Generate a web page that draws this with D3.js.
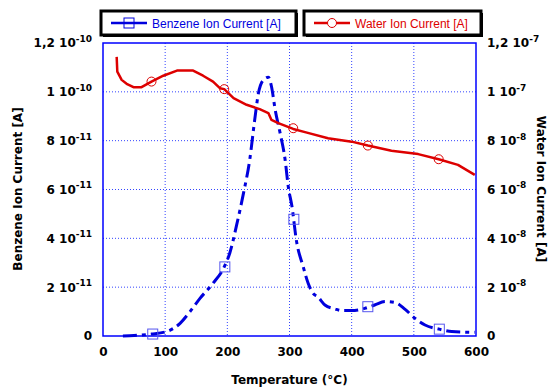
<!DOCTYPE html>
<html>
<head>
<meta charset="utf-8">
<script src="https://cdn.jsdelivr.net/npm/d3@7"></script>
<style>
  body { margin: 0; background: #fff; }
  svg { display: block; }
  .tick-label { font-family: "DejaVu Sans", sans-serif; font-weight: bold; font-size: 12px; fill: #000; }
  .axis-title { font-family: "DejaVu Sans", sans-serif; font-weight: bold; font-size: 12px; fill: #000; }
  .legend-text { font-family: "Liberation Sans", Arial, sans-serif; font-size: 12px; }
</style>
</head>
<body>
<div id="vis"></div>
<script>
const FRAME_WIDTH = 550;
const FRAME_HEIGHT = 387;
const MARGINS = {left: 103, right: 74, top: 43, bottom: 51};

// temperature (°C) and benzene ion current (x 1e-11 A)
const benzeneTemp = [32, 50, 78, 102, 124, 140, 156, 177, 195, 204, 215, 226, 236, 244, 250, 258, 266,
  271, 277, 285, 293, 298, 304, 311, 322, 330, 338, 346, 357, 373, 384, 400, 421, 437, 454, 470,
  486, 502, 518, 541, 561, 598];
const benzeneVal = [0, 0.02, 0.08, 0.18, 0.52, 1.0, 1.54, 2.16, 2.83, 3.4, 4.55, 5.85, 7.21, 8.85, 9.94,
  10.49, 10.6, 10.22, 9.26, 8.3, 7.21, 6.12, 5.3, 3.93, 2.84, 2.16, 1.75, 1.59, 1.27, 1.11, 1.04,
  1.04, 1.13, 1.27, 1.41, 1.37, 1.09, 0.72, 0.45, 0.28, 0.18, 0.15];
const benzeneMarkTemp = [80, 196, 307, 426, 541];
const benzeneMarkVal = [0.08, 2.83, 4.78, 1.2, 0.28];

// water ion current (x 1e-8 A)
const waterTemp = [22, 23, 30, 38, 49, 62, 78, 97, 119, 145, 161, 177, 188, 195, 210, 231, 252, 266,
  271, 282, 306, 328, 362, 400, 426, 464, 507, 540, 571, 598];
const waterVal = [11.43, 10.83, 10.49, 10.33, 10.19, 10.19, 10.42, 10.66, 10.87, 10.87, 10.66, 10.42,
  10.15, 10.11, 9.74, 9.47, 9.29, 9.13, 8.85, 8.72, 8.48, 8.33, 8.1, 7.96, 7.8, 7.59, 7.45, 7.24,
  7.01, 6.6];
const waterMarkTemp = [78, 195, 306, 426, 540];
const waterMarkVal = [10.42, 10.11, 8.51, 7.8, 7.24];

const xTicks = [0, 100, 200, 300, 400, 500, 600];
const yTicks = [0, 2, 4, 6, 8, 10, 12];
const leftMantissa = ["0", "2", "4", "6", "8", "1", "1,2"];
const leftExponent = ["", "-11", "-11", "-11", "-11", "-10", "-10"];
const rightMantissa = ["0", "2", "4", "6", "8", "1", "1,2"];
const rightExponent = ["", "-8", "-8", "-8", "-8", "-7", "-7"];

const BLUE = "#0000dd";
const RED = "#dd0000";

const VIS_WIDTH = FRAME_WIDTH - MARGINS.left - MARGINS.right;
const VIS_HEIGHT = FRAME_HEIGHT - MARGINS.top - MARGINS.bottom;

const FRAME1 = d3.select("#vis")
  .append("svg")
    .attr("width", FRAME_WIDTH)
    .attr("height", FRAME_HEIGHT);

const X_SCALE = d3.scaleLinear().domain([0, 600]).range([0, VIS_WIDTH]);
const Y_LEFT = d3.scaleLinear().domain([0, 12]).range([VIS_HEIGHT, 0]);
const Y_RIGHT = d3.scaleLinear().domain([0, 12]).range([VIS_HEIGHT, 0]);

const plot = FRAME1.append("g")
  .attr("transform", "translate(" + MARGINS.left + "," + MARGINS.top + ")");

// grid
plot.append("g").selectAll("line.vgrid")
  .data(xTicks.slice(1, -1))
  .enter().append("line")
    .attr("x1", d => X_SCALE(d)).attr("x2", d => X_SCALE(d))
    .attr("y1", 0).attr("y2", VIS_HEIGHT)
    .attr("stroke", "#3344ff").attr("stroke-width", 1).attr("stroke-dasharray", "1,2");
plot.append("g").selectAll("line.hgrid")
  .data(yTicks.slice(1, -1))
  .enter().append("line")
    .attr("x1", 0).attr("x2", VIS_WIDTH)
    .attr("y1", d => Y_LEFT(d)).attr("y2", d => Y_LEFT(d))
    .attr("stroke", "#3344ff").attr("stroke-width", 1).attr("stroke-dasharray", "1,2");

// axes
function supLabels(sel, mant, expo) {
  sel.selectAll(".tick text").each(function(d, i) {
    const t = d3.select(this).text(null).attr("class", "tick-label");
    t.append("tspan").text(mant[i] + (expo[i] ? " 10" : ""));
    if (expo[i]) {
      t.append("tspan").text(expo[i]).attr("font-size", "9px").attr("dy", "-0.6em");
    }
  });
}

const xAxis = plot.append("g")
  .attr("transform", "translate(0," + VIS_HEIGHT + ")")
  .call(d3.axisBottom(X_SCALE).tickValues(xTicks).tickSize(0).tickPadding(11));
xAxis.selectAll(".tick text").attr("class", "tick-label");

const leftAxis = plot.append("g")
  .call(d3.axisLeft(Y_LEFT).tickValues(yTicks).tickSize(0).tickPadding(11));
supLabels(leftAxis, leftMantissa, leftExponent);

const rightAxis = plot.append("g")
  .attr("transform", "translate(" + VIS_WIDTH + ",0)")
  .call(d3.axisRight(Y_RIGHT).tickValues(yTicks).tickSize(0).tickPadding(11));
supLabels(rightAxis, rightMantissa, rightExponent);

plot.selectAll(".domain").remove();

// frame
plot.append("rect")
  .attr("width", VIS_WIDTH).attr("height", VIS_HEIGHT)
  .attr("fill", "none").attr("stroke", "#0000ff").attr("stroke-width", 1.5);

// benzene curve
const benzeneLine = d3.line()
  .x((d, i) => X_SCALE(benzeneTemp[i]))
  .y(d => Y_LEFT(d))
  .curve(d3.curveMonotoneX);
plot.append("path")
  .attr("d", benzeneLine(benzeneVal))
  .attr("fill", "none").attr("stroke", BLUE).attr("stroke-width", 3)
  .attr("stroke-dasharray", "14,5,4,5");
plot.selectAll("rect.bmark")
  .data(benzeneMarkVal)
  .enter().append("rect")
    .attr("x", (d, i) => X_SCALE(benzeneMarkTemp[i]) - 5)
    .attr("y", d => Y_LEFT(d) - 5)
    .attr("width", 10).attr("height", 10)
    .attr("fill", "none").attr("stroke", "#5555ee").attr("stroke-width", 1);

// water curve
const waterLine = d3.line()
  .x((d, i) => X_SCALE(waterTemp[i]))
  .y(d => Y_RIGHT(d));
plot.append("path")
  .attr("d", waterLine(waterVal))
  .attr("fill", "none").attr("stroke", RED).attr("stroke-width", 2.5)
  .attr("stroke-linejoin", "round");
plot.selectAll("circle.wmark")
  .data(waterMarkVal)
  .enter().append("circle")
    .attr("cx", (d, i) => X_SCALE(waterMarkTemp[i]))
    .attr("cy", d => Y_RIGHT(d))
    .attr("r", 4.5)
    .attr("fill", "none").attr("stroke", RED).attr("stroke-width", 1);

// axis titles
FRAME1.append("text").attr("class", "axis-title")
  .attr("x", MARGINS.left + VIS_WIDTH / 2).attr("y", 384)
  .attr("text-anchor", "middle").text("Temperature (°C)");
FRAME1.append("text").attr("class", "axis-title")
  .attr("transform", "translate(22,189) rotate(-90)")
  .attr("text-anchor", "middle").text("Benzene Ion Current [A]");
FRAME1.append("text").attr("class", "axis-title")
  .attr("transform", "translate(537,189) rotate(90)")
  .attr("text-anchor", "middle").text("Water Ion Current [A]");

// legends
function legendBox(x, w, color, label, marker) {
  const g = FRAME1.append("g").attr("transform", "translate(" + x + ",11)");
  g.append("rect").attr("x", 2).attr("y", 2).attr("width", w).attr("height", 24).attr("fill", "#000");
  g.append("rect").attr("width", w).attr("height", 24)
    .attr("fill", "#fff").attr("stroke", "#000").attr("stroke-width", 3);
  g.append("line").attr("x1", 10).attr("x2", 46).attr("y1", 12).attr("y2", 12)
    .attr("stroke", color).attr("stroke-width", 2.5);
  if (marker === "square") {
    g.append("rect").attr("x", 23).attr("y", 7).attr("width", 10).attr("height", 10)
      .attr("fill", "none").attr("stroke", color).attr("stroke-width", 1);
  } else {
    g.append("circle").attr("cx", 28).attr("cy", 12).attr("r", 4.5)
      .attr("fill", "#fff").attr("stroke", color).attr("stroke-width", 1);
  }
  g.append("text").attr("class", "legend-text").attr("x", 51).attr("y", 16.5)
    .attr("fill", color).text(label);
}
legendBox(101, 195, BLUE, "Benzene Ion Current [A]", "square");
legendBox(304, 177, RED, "Water Ion Current [A]", "circle");
</script>
</body>
</html>
